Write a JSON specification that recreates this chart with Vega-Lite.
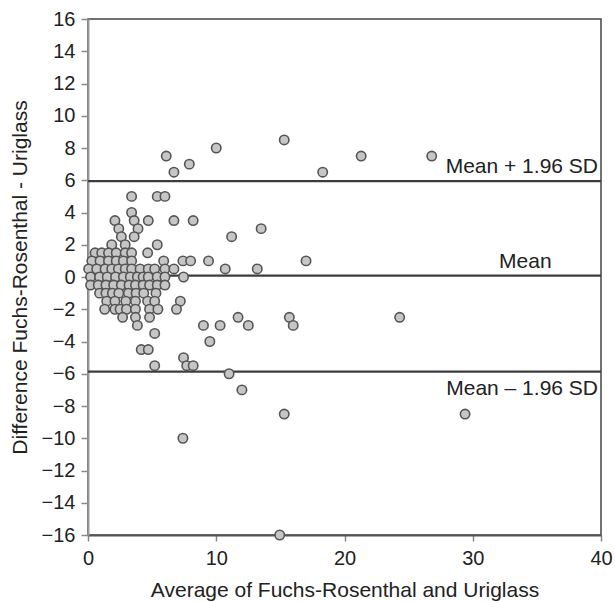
{
  "$schema": "https://vega.github.io/schema/vega-lite/v6.json",
  "width": 513,
  "height": 516,
  "autosize": {"type": "none"},
  "padding": {"left": 88, "top": 19, "right": 14, "bottom": 67},
  "background": "white",
  "config": {
    "view": {"stroke": "#444", "strokeWidth": 1.5},
    "font": "Liberation Sans",
    "axis": {
      "grid": false,
      "labelFont": "Liberation Sans",
      "titleFont": "Liberation Sans",
      "labelFontSize": 20,
      "titleFontSize": 21,
      "labelColor": "#222",
      "titleColor": "#222",
      "titleFontWeight": "normal",
      "tickColor": "#888",
      "tickWidth": 1.5,
      "domainWidth": 2,
      "labelOverlap": false
    }
  },
  "datasets": {
    "pts": [
      {"a": 15.3, "d": 8.5}, {"a": 10.0, "d": 8.0},
      {"a": 6.1, "d": 7.5}, {"a": 21.3, "d": 7.5}, {"a": 26.8, "d": 7.5},
      {"a": 7.9, "d": 7.0},
      {"a": 6.7, "d": 6.5}, {"a": 18.3, "d": 6.5},
      {"a": 3.4, "d": 5.0}, {"a": 5.4, "d": 5.0}, {"a": 6.0, "d": 5.0},
      {"a": 3.4, "d": 4.0},
      {"a": 2.1, "d": 3.5}, {"a": 3.6, "d": 3.5}, {"a": 4.7, "d": 3.5}, {"a": 6.7, "d": 3.5}, {"a": 8.2, "d": 3.5},
      {"a": 2.4, "d": 3.0}, {"a": 3.9, "d": 3.0}, {"a": 13.5, "d": 3.0},
      {"a": 2.6, "d": 2.5}, {"a": 3.6, "d": 2.5}, {"a": 11.2, "d": 2.5},
      {"a": 1.85, "d": 2.0}, {"a": 2.9, "d": 2.0}, {"a": 5.4, "d": 2.0},
      {"a": 0.55, "d": 1.5}, {"a": 1.07, "d": 1.5}, {"a": 1.6, "d": 1.5}, {"a": 2.2, "d": 1.5}, {"a": 2.9, "d": 1.5}, {"a": 3.4, "d": 1.5}, {"a": 4.65, "d": 1.5},
      {"a": 0.3, "d": 1.0}, {"a": 0.94, "d": 1.0}, {"a": 1.6, "d": 1.0}, {"a": 2.2, "d": 1.0}, {"a": 2.76, "d": 1.0}, {"a": 3.4, "d": 1.0}, {"a": 5.9, "d": 1.0}, {"a": 7.4, "d": 1.0}, {"a": 8.0, "d": 1.0}, {"a": 9.4, "d": 1.0}, {"a": 17.0, "d": 1.0},
      {"a": 0.05, "d": 0.5}, {"a": 0.68, "d": 0.5}, {"a": 1.33, "d": 0.5}, {"a": 1.85, "d": 0.5}, {"a": 2.37, "d": 0.5}, {"a": 2.9, "d": 0.5}, {"a": 3.4, "d": 0.5}, {"a": 4.06, "d": 0.5}, {"a": 4.7, "d": 0.5}, {"a": 5.2, "d": 0.5}, {"a": 6.0, "d": 0.5}, {"a": 6.7, "d": 0.5}, {"a": 10.7, "d": 0.5}, {"a": 13.2, "d": 0.5},
      {"a": 0.2, "d": 0.0}, {"a": 0.9, "d": 0.0}, {"a": 1.5, "d": 0.0}, {"a": 2.15, "d": 0.0}, {"a": 2.76, "d": 0.0}, {"a": 3.3, "d": 0.0}, {"a": 3.85, "d": 0.0}, {"a": 4.3, "d": 0.0}, {"a": 4.7, "d": 0.0}, {"a": 5.4, "d": 0.0}, {"a": 6.0, "d": 0.0}, {"a": 7.45, "d": 0.0},
      {"a": 0.2, "d": -0.5}, {"a": 0.8, "d": -0.5}, {"a": 1.4, "d": -0.5}, {"a": 2.0, "d": -0.5}, {"a": 2.6, "d": -0.5}, {"a": 3.2, "d": -0.5}, {"a": 3.7, "d": -0.5}, {"a": 4.3, "d": -0.5}, {"a": 4.8, "d": -0.5}, {"a": 5.4, "d": -0.5}, {"a": 6.0, "d": -0.5},
      {"a": 0.9, "d": -1.0}, {"a": 1.4, "d": -1.0}, {"a": 1.9, "d": -1.0}, {"a": 2.4, "d": -1.0}, {"a": 3.15, "d": -1.0}, {"a": 3.75, "d": -1.0}, {"a": 4.35, "d": -1.0}, {"a": 5.3, "d": -1.0},
      {"a": 1.46, "d": -1.5}, {"a": 2.1, "d": -1.5}, {"a": 2.95, "d": -1.5}, {"a": 3.7, "d": -1.5}, {"a": 4.65, "d": -1.5}, {"a": 5.2, "d": -1.5}, {"a": 7.2, "d": -1.5},
      {"a": 1.3, "d": -2.0}, {"a": 2.1, "d": -2.0}, {"a": 2.5, "d": -2.0}, {"a": 3.0, "d": -2.0}, {"a": 3.7, "d": -2.0}, {"a": 4.8, "d": -2.0}, {"a": 5.45, "d": -2.0}, {"a": 6.9, "d": -2.0},
      {"a": 2.7, "d": -2.5}, {"a": 3.7, "d": -2.5}, {"a": 4.8, "d": -2.5}, {"a": 11.7, "d": -2.5}, {"a": 15.7, "d": -2.5}, {"a": 24.3, "d": -2.5},
      {"a": 3.85, "d": -3.0}, {"a": 9.0, "d": -3.0}, {"a": 10.3, "d": -3.0}, {"a": 12.5, "d": -3.0}, {"a": 16.0, "d": -3.0},
      {"a": 5.2, "d": -3.5},
      {"a": 9.5, "d": -4.0},
      {"a": 4.15, "d": -4.5}, {"a": 4.7, "d": -4.5},
      {"a": 7.45, "d": -5.0},
      {"a": 5.2, "d": -5.5}, {"a": 7.7, "d": -5.5}, {"a": 8.2, "d": -5.5},
      {"a": 11.0, "d": -6.0},
      {"a": 12.0, "d": -7.0},
      {"a": 15.3, "d": -8.5}, {"a": 29.4, "d": -8.5},
      {"a": 7.4, "d": -10.0},
      {"a": 14.95, "d": -16.0}
    ],
    "lines": [
      {"d": 5.95}, {"d": 0.08}, {"d": -5.87}
    ],
    "labels": [
      {"a": 40, "d": 5.95, "t": "Mean + 1.96 SD", "pos": "upper"},
      {"a": 34.1, "d": 0.08, "t": "Mean", "pos": "mean"},
      {"a": 40, "d": -5.87, "t": "Mean – 1.96 SD", "pos": "lower"}
    ]
  },
  "layer": [
    {
      "data": {"name": "lines"},
      "mark": {"type": "rule", "color": "#3c3c3c", "strokeWidth": 2.2},
      "encoding": {
        "y": {"field": "d", "type": "quantitative", "scale": {"domain": [-16, 16]}}
      }
    },
    {
      "data": {"name": "pts"},
      "mark": {"type": "circle", "fill": "#c6c6c6", "stroke": "#555", "strokeWidth": 1.6, "size": 88, "opacity": 1, "fillOpacity": 1},
      "encoding": {
        "x": {"field": "a", "type": "quantitative", "scale": {"domain": [0, 40], "nice": false, "zero": false},
          "axis": {"title": "Average of Fuchs-Rosenthal and Uriglass", "values": [0, 10, 20, 30, 40], "tickSize": 6, "labelPadding": 7, "domainColor": "#555", "titleY": 61, "titleBaseline": "alphabetic", "labelFlush": false, "labelOverlap": false}},
        "y": {"field": "d", "type": "quantitative", "scale": {"domain": [-16, 16], "nice": false, "zero": false},
          "axis": {"title": "Difference Fuchs-Rosenthal - Uriglass", "values": [-16, -14, -12, -10, -8, -6, -4, -2, 0, 2, 4, 6, 8, 10, 12, 14, 16], "tickCount": 17, "tickSize": 7, "labelPadding": 6, "domainColor": "#999", "titleX": -68, "titleBaseline": "middle", "labelFlush": false, "labelOverlap": false, "labelBound": false}}
      }
    },
    {
      "data": {"name": "labels"},
      "transform": [{"filter": "datum.pos == 'upper'"}],
      "mark": {"type": "text", "align": "right", "baseline": "alphabetic", "dx": -3, "dy": -8, "fontSize": 21, "color": "#222", "font": "Liberation Sans"},
      "encoding": {
        "x": {"field": "a", "type": "quantitative"},
        "y": {"field": "d", "type": "quantitative"},
        "text": {"field": "t"}
      }
    },
    {
      "data": {"name": "labels"},
      "transform": [{"filter": "datum.pos == 'mean'"}],
      "mark": {"type": "text", "align": "center", "baseline": "alphabetic", "dy": -8, "fontSize": 21, "color": "#222", "font": "Liberation Sans"},
      "encoding": {
        "x": {"field": "a", "type": "quantitative"},
        "y": {"field": "d", "type": "quantitative"},
        "text": {"field": "t"}
      }
    },
    {
      "data": {"name": "labels"},
      "transform": [{"filter": "datum.pos == 'lower'"}],
      "mark": {"type": "text", "align": "right", "baseline": "alphabetic", "dx": -3, "dy": 23, "fontSize": 21, "color": "#222", "font": "Liberation Sans"},
      "encoding": {
        "x": {"field": "a", "type": "quantitative"},
        "y": {"field": "d", "type": "quantitative"},
        "text": {"field": "t"}
      }
    }
  ]
}
